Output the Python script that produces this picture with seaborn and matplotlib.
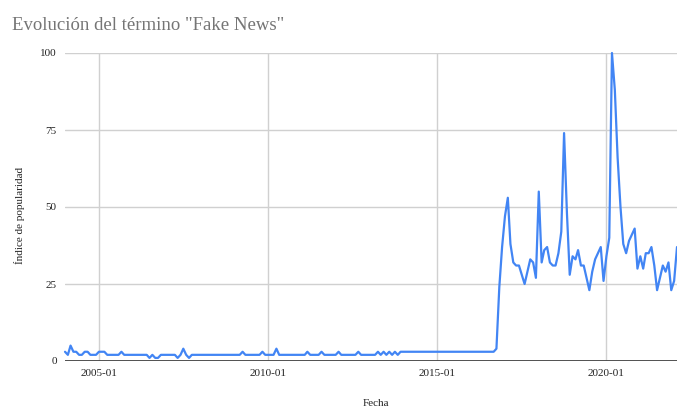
import pandas as pd
import matplotlib
matplotlib.use("Agg")
import matplotlib.pyplot as plt
import matplotlib.dates as mdates
import seaborn as sns

# Monthly popularity index, starting January 2004
inicio = "2004-01-01"
indice = [
    3, 2, 5, 3, 3, 2, 2, 3, 3, 2,
    2, 2, 3, 3, 3, 2, 2, 2, 2, 2,
    3, 2, 2, 2, 2, 2, 2, 2, 2, 2,
    1, 2, 1, 1, 2, 2, 2, 2, 2, 2,
    1, 2, 4, 2, 1, 2, 2, 2, 2, 2,
    2, 2, 2, 2, 2, 2, 2, 2, 2, 2,
    2, 2, 2, 3, 2, 2, 2, 2, 2, 2,
    3, 2, 2, 2, 2, 4, 2, 2, 2, 2,
    2, 2, 2, 2, 2, 2, 3, 2, 2, 2,
    2, 3, 2, 2, 2, 2, 2, 3, 2, 2,
    2, 2, 2, 2, 3, 2, 2, 2, 2, 2,
    2, 3, 2, 3, 2, 3, 2, 3, 2, 3,
    3, 3, 3, 3, 3, 3, 3, 3, 3, 3,
    3, 3, 3, 3, 3, 3, 3, 3, 3, 3,
    3, 3, 3, 3, 3, 3, 3, 3, 3, 3,
    3, 3, 3, 4, 24, 37, 47, 53, 38, 32,
    31, 31, 28, 25, 29, 33, 32, 27, 55, 32,
    36, 37, 32, 31, 31, 35, 42, 74, 48, 28,
    34, 33, 36, 31, 31, 27, 23, 29, 33, 35,
    37, 26, 34, 40, 100, 88, 66, 50, 38, 35,
    39, 41, 43, 30, 34, 30, 35, 35, 37, 31,
    23, 27, 31, 29, 32, 23, 26, 37,
]
ticks_x = ["2005-01-01", "2010-01-01", "2015-01-01", "2020-01-01"]
ticks_y = [0, 25, 50, 75, 100]

titulo = 'Evolución del término "Fake News"'
etiqueta_x = "Fecha"
etiqueta_y = "Índice de popularidad"

fechas = pd.date_range(inicio, periods=len(indice), freq="MS")
df = pd.DataFrame({etiqueta_x: fechas, etiqueta_y: indice})

sns.set_theme(style="white")
plt.rcParams["font.family"] = ["Liberation Serif", "DejaVu Serif"]

W, H = 677, 407
fig = plt.figure(figsize=(W / 100, H / 100), dpi=100)
ax = fig.add_axes([65 / W, 46 / H, 612 / W, 308 / H])

sns.lineplot(data=df, x=etiqueta_x, y=etiqueta_y, ax=ax,
             color="#4285F4", linewidth=1.6, clip_on=False, zorder=3)

ax.set_xlim(fechas[0], fechas[-1])
ax.set_ylim(0, 100)
ax.set_xticks(pd.to_datetime(ticks_x))
ax.xaxis.set_major_formatter(mdates.DateFormatter("%Y-%m"))
ax.set_yticks(ticks_y)

ax.grid(True, color="#d0d0d0", linewidth=1.0)
ax.axhline(0, color="#444444", linewidth=1.3, zorder=2)
for s in ax.spines.values():
    s.set_visible(False)

ax.tick_params(axis="both", length=0, labelsize=8, labelcolor="#222222", pad=6)
ax.set_xlabel("")
ax.set_ylabel("")

fig.text(12 / W, 1 - 30 / H, titulo, fontsize=13.5, color="#757575",
         ha="left", va="baseline")
fig.text(376 / W, 1.5 / H, etiqueta_x, fontsize=8, color="#222222",
         ha="center", va="baseline")
fig.text(20 / W, 1 - 215 / H, etiqueta_y, fontsize=8, color="#222222",
         ha="center", va="center", rotation=90)

fig.savefig("out.png", dpi=100)
